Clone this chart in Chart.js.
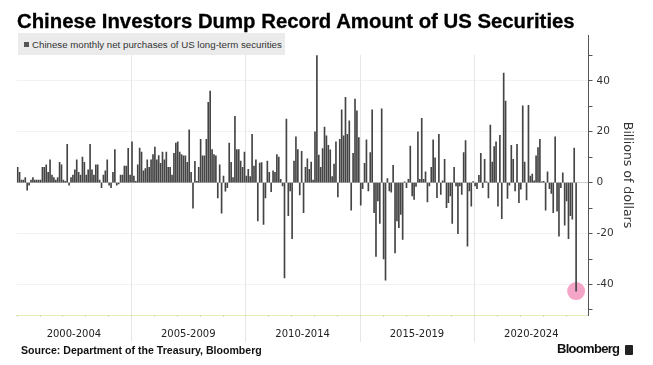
<!DOCTYPE html>
<html>
<head>
<meta charset="utf-8"/>
<style>
  html,body{margin:0;padding:0;background:#fff;}
  .wrap{position:relative;width:653px;height:365px;overflow:hidden;font-family:"Liberation Sans",Arial,sans-serif;}
  canvas{position:absolute;left:0;top:0;}
  .txt{position:absolute;white-space:nowrap;line-height:1;}
  #title{left:17px;top:11px;font-size:19px;font-weight:bold;color:#000;-webkit-text-stroke:0.3px #000;}
  #legendBox{position:absolute;left:18px;top:33px;width:267px;height:22px;background:#ebebeb;}
  #legendKey{position:absolute;left:24px;top:42px;width:5px;height:5px;background:#555;}
  #legendTxt{left:32px;top:40px;font-size:10px;color:#333;}
  #source{left:21px;top:345px;font-size:10.5px;font-weight:bold;color:#111;}
  #brand{left:557px;top:342px;font-size:13px;font-weight:bold;letter-spacing:-0.7px;color:#111;}
  #brandIcon{position:absolute;left:625px;top:345px;width:8px;height:10px;background:#222;border-radius:1px;}
</style>
</head>
<body>
<div class="wrap">
  <canvas id="c" width="653" height="365" style="width:653px;height:365px"></canvas>
  <div class="txt" id="title">Chinese Investors Dump Record Amount of US Securities</div>
  <div id="legendBox"></div>
  <div id="legendKey"></div>
  <div class="txt" id="legendTxt">Chinese monthly net purchases of US long-term securities</div>
  <div class="txt" id="source">Source: Department of the Treasury, Bloomberg</div>
  <div class="txt" id="brand">Bloomberg</div>
  <div id="brandIcon"></div>
</div>
<script src="https://cdn.jsdelivr.net/npm/chart.js@4.4.0/dist/chart.umd.min.js"></script>
<script>
  // periods shown under the axis, and the years they cover
  const periods = ['2000-2004','2005-2009','2010-2014','2015-2019','2020-2024'];
  const years   = [2000,2001,2002,2003,2004,2005,2006,2007,2008,2009,2010,2011,2012,
                   2013,2014,2015,2016,2017,2018,2019,2020,2021,2022,2023,2024];

  // net purchases, billions of dollars, one value per month
  const purchases2000_04 = [6,4,1,1,2,-3,-1,1,2,1, 1,1,1,6,6,7,4,9,3,2, 1,2,8,7,1,0.5,15,-1,2,3,
                            5,9,4,3,10,8,3,5,15,5, 3,7,7,1,-2,3,4.6,9,-1,-2, 4,13,-1,-0.5,3,3,6.5,6.5,13.5,3];
  const purchases2005_09 = [16,2.6,0.5,7,13.6,12,4.6,5.5,9,6, 9,11,14,9,10.6,7.6,12,9,12,6,
                            6,3,11.5,15.5,16,12,11,10.5,10.5,8, 20.7,4,-10,8.4,0.5,6,17,10.5,10.5,17,
                            31.5,36,13,11,10.5,-6,7,-12,2.6,-3.4, -2,15.5,8,2,26,13,13,8.5,6,12];
  const purchases2010_14 = [2.6,5.2,2.4,19,6.5,9,-15,7.7,7.9,-16.4, -6,8.5,4,-3.5,4.6,4,11,10,1.3,-1.3,
                            -37.4,25,-13,-3.3,-22,8.5,18,13,-4.8,12.3, -11.8,6,9.4,5.2,8.1,1,20,49.9,10.8,6,
                            13.4,21.8,18.4,14.7,12.9,2.4,7.3,16,-5.6,17, 28.6,18.4,33.5,19,24.3,-10.8,11.5,32.8,28.2,17.7];
  const purchases2015_19 = [-8.9,-2.4,7.6,16.8,-3.3,11.8,28.6,-11.8,-29,-7.2, -16,29,-30,-38.3,1.6,-3.3,-3.7,6.8,-27.6,-15,
                            -17.7,-12.5,-22.3,0.3,-2,1.3,14.4,-5.2,-6.6,-1.5, 20,1.3,25.3,1.3,4.2,-7.6,-1.3,6,16.8,9.7,
                            -5.9,19,-4.6,0.7,9.2,-9.8,-7.9,-5.2,-16,6, -1.3,-20,-1.3,-4.6,11.8,16.5,-25,-3.3,-9.2,0.4];
  const purchases2020_24 = [-1.3,-2.4,2.9,11.5,-2,9.2,0.3,-6,22.6,8.1, 14.2,16,-9.2,18.6,-14.2,43,32,-6.2,-1,14.7,
                            9.2,-3.3,15,-7.9,-2.6,30.2,8.1,-6.8,30.4,2.6, 3.4,0.7,10.5,13.8,17,0.3,0.5,-10.8,4.2,-2.4,
                            -4.2,-11.8,18,-11.2,-21,-2,3.9,-16.7,-7.2,-22, -13,-14.4,13.6,-42.6];

  const yTicks         = [-50,-40,-30,-20,-10,0,10,20,30,40,50];
  const yLabelTicks    = [-40,-20,0,20,40];
  const highlightMonth = '2024-06';

  const months = [];
  years.forEach(y => { for (let m = 1; m <= 12; m++) months.push(y + '-' + String(m).padStart(2,'0')); });

  const netPurchases = [].concat(purchases2000_04, purchases2005_09, purchases2010_14, purchases2015_19, purchases2020_24);
  while (netPurchases.length < months.length) netPurchases.push(null);
  const hiIdx = months.indexOf(highlightMonth);
  const highlight = months.map((m, i) => i === hiIdx ? netPurchases[i] : null);

  // period dividers, yearly ticks and period names under the axis
  const periodAxis = {
    id: 'periodAxis',
    beforeDatasetsDraw(chart) {
      const {ctx, chartArea: a, scales: {x}} = chart;
      ctx.save();
      ctx.strokeStyle = '#e6e6e6';
      ctx.lineWidth = 1;
      periods.slice(1).forEach(p => {
        const k = months.indexOf(p.slice(0,4) + '-01');
        const px = Math.round((x.getPixelForValue(k-1) + x.getPixelForValue(k)) / 2) + 0.5;
        ctx.beginPath(); ctx.moveTo(px, a.top + 20); ctx.lineTo(px, a.bottom + 27); ctx.stroke();
      });
      ctx.restore();
    },
    afterDraw(chart) {
      const {ctx, chartArea: a, scales: {x}} = chart;
      const edge = k => k <= 0 ? a.left : k >= months.length ? a.right
                       : (x.getPixelForValue(k-1) + x.getPixelForValue(k)) / 2;
      ctx.save();
      ctx.strokeStyle = '#dedfb0';
      years.forEach(y => {
        const px = Math.round(edge(months.indexOf(y + '-01'))) + 0.5;
        ctx.beginPath(); ctx.moveTo(px, a.bottom); ctx.lineTo(px, a.bottom + 2); ctx.stroke();
      });
      ctx.fillStyle = '#222';
      ctx.font = '10px "DejaVu Sans"';
      ctx.textAlign = 'center';
      ctx.textBaseline = 'middle';
      periods.forEach(p => {
        const k0 = months.indexOf(p.slice(0,4) + '-01');
        const k1 = months.indexOf(p.slice(5) + '-12') + 1;
        ctx.fillText(p, (edge(k0) + edge(k1)) / 2, a.bottom + 19);
      });
      ctx.restore();
    }
  };

  new Chart(document.getElementById('c'), {
    data: {
      labels: months,
      datasets: [
        { type: 'bar', data: netPurchases, backgroundColor: '#444', barThickness: 1 },
        { type: 'line', data: highlight, showLine: false, pointRadius: 9,
          pointBackgroundColor: 'rgba(243,150,190,0.85)', pointBorderWidth: 0 }
      ]
    },
    options: {
      responsive: false, animation: false, devicePixelRatio: 1, events: [],
      layout: { padding: { left: 16.7, top: 35, right: 0, bottom: 50 } },
      plugins: { legend: { display: false }, tooltip: { enabled: false } },
      scales: {
        x: {
          grid: { display: false },
          ticks: { display: false },
          border: { display: true, color: '#e8eab8' },
          afterFit: s => { s.height = 0; }
        },
        y: {
          position: 'right', min: -52, max: 58,
          afterBuildTicks: s => { s.ticks = yTicks.map(v => ({ value: v })); },
          ticks: {
            padding: 4, color: '#333', font: { family: 'DejaVu Sans', size: 10.5 },
            callback: v => yLabelTicks.includes(v) ? v : ''
          },
          grid: {
            tickLength: 4, tickColor: '#555',
            color: c => c.tick.value === 0 ? '#cfcfcf' : (yLabelTicks.includes(c.tick.value) ? '#f2f2f2' : 'rgba(0,0,0,0)')
          },
          border: { display: true, color: '#555' },
          title: {
            display: true, text: 'Billions of dollars', color: '#333',
            font: { family: 'DejaVu Sans', size: 12.5 }, padding: { top: 18, bottom: 0 }
          },
          afterFit: s => { s.width = 64.5; }
        }
      }
    },
    plugins: [periodAxis]
  });

  // size the header and footer texts to the widths they take in the original
  function fit(id, w) {
    const el = document.getElementById(id);
    const cur = parseFloat(getComputedStyle(el).fontSize);
    el.style.fontSize = (cur * w / el.getBoundingClientRect().width) + 'px';
  }
  fit('title', 558);
  fit('legendTxt', 250);
  fit('source', 241);
</script>
</body>
</html>
